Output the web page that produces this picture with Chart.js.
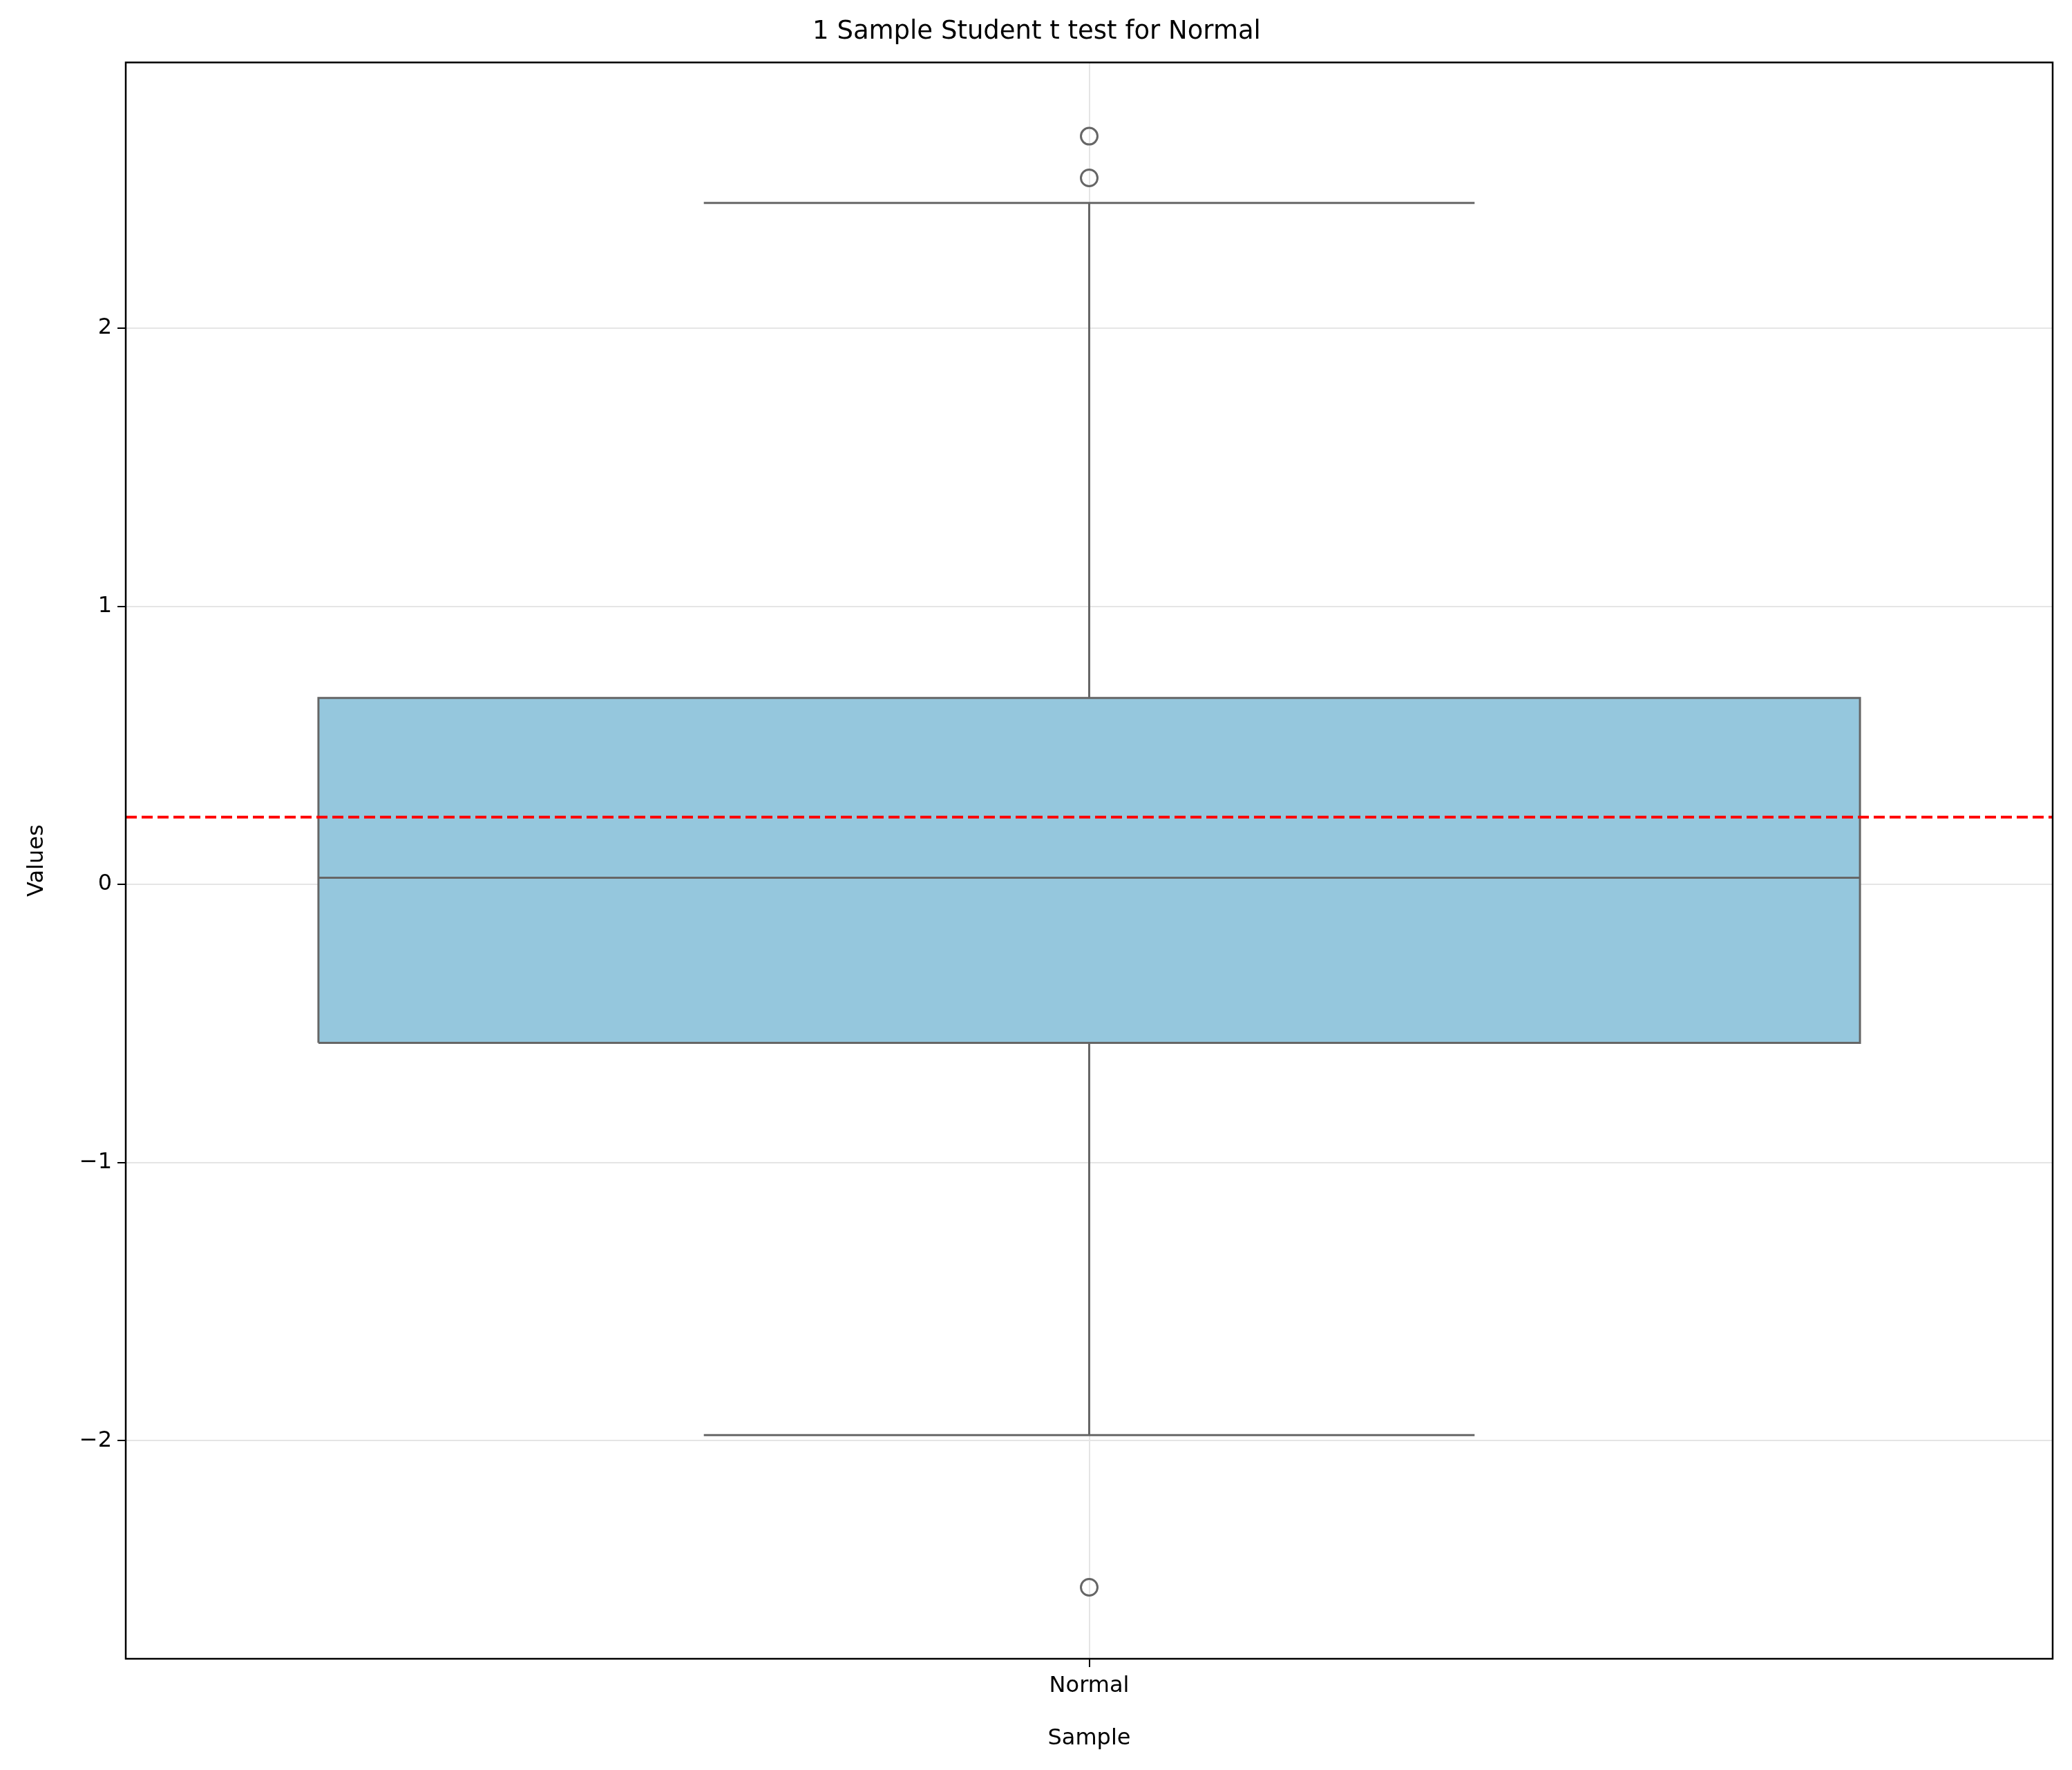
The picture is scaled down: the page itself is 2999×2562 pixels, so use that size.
<!DOCTYPE html>
<html><head><meta charset="utf-8">
<script src="https://cdn.jsdelivr.net/npm/chart.js@4/dist/chart.umd.min.js"></script>
<style>html,body{margin:0;padding:0;background:#fff}#w{width:2999px;height:2562px}</style>
</head><body><div id="w"><canvas id="c"></canvas></div>
<script>
const categories = ["Normal"];
const q1Values = [-0.57];
const medianValues = [0.024];
const q3Values = [0.67];
const whiskerLow = [-1.98];
const whiskerHigh = [2.45];
const outlierValues = [2.69, 2.54, -2.527];
const testMean = [0.242];
const yTicks = [-2, -1, 0, 1, 2];

const G = '#666666';
const q1 = q1Values[0], q3 = q3Values[0], med = medianValues[0];
const ds = [
  {data:[{x:-0.4,y:q3},{x:0.4,y:q3}], borderWidth:0, pointRadius:0, backgroundColor:'#95c7dd', fill:'+1', order:10},
  {data:[{x:-0.4,y:q1},{x:0.4,y:q1}], borderWidth:0, pointRadius:0, fill:false, order:10},
  {data:[{x:0,y:q3},{x:0,y:whiskerHigh[0]}], borderColor:G, borderWidth:3, pointRadius:0},
  {data:[{x:0,y:q1},{x:0,y:whiskerLow[0]}], borderColor:G, borderWidth:3, pointRadius:0},
  {data:[{x:-0.2,y:whiskerHigh[0]},{x:0.2,y:whiskerHigh[0]}], borderColor:G, borderWidth:3, pointRadius:0},
  {data:[{x:-0.2,y:whiskerLow[0]},{x:0.2,y:whiskerLow[0]}], borderColor:G, borderWidth:3, pointRadius:0},
  {data:[{x:-0.4,y:q1},{x:-0.4,y:q3},{x:0.4,y:q3},{x:0.4,y:q1},{x:-0.4,y:q1}], borderColor:G, borderWidth:3, pointRadius:0},
  {data:[{x:-0.4,y:med},{x:0.4,y:med}], borderColor:G, borderWidth:3, pointRadius:0},
  {data:[{x:-0.5,y:testMean[0]},{x:0.5,y:testMean[0]}], borderColor:'#ff0000', borderWidth:4, borderDash:[16,7], pointRadius:0, order:-1},
  {data:outlierValues.map(v=>({x:0,y:v})), showLine:false, pointRadius:12, pointBorderColor:G, pointBackgroundColor:'rgba(0,0,0,0)', pointBorderWidth:3},
];
ds.forEach(d=>{d.type='line'; if(d.order===undefined) d.order=0; if(d.showLine===undefined) d.showLine=true; if(d.fill===undefined) d.fill=false;});

const frame = {id:'frame', afterDraw(ch){const a=ch.chartArea,c=ch.ctx;c.save();c.strokeStyle='#000';c.lineWidth=2.5;c.strokeRect(a.left,a.top,a.right-a.left,a.bottom-a.top);c.restore();}};

new Chart(document.getElementById('c'), {
  type:'scatter',
  data:{datasets:ds},
  plugins:[frame],
  options:{
    responsive:true, maintainAspectRatio:false, animation:false,
    layout:{padding:{left:30,right:28,top:0,bottom:22}},
    plugins:{legend:{display:false}, tooltip:{enabled:false},
      title:{display:true, text:'1 Sample Student t test for Normal', color:'#000', font:{family:'DejaVu Sans',size:37,weight:'normal'}, padding:{top:24,bottom:22}}},
    scales:{
      x:{type:'linear', min:-0.5, max:0.5,
        afterBuildTicks(s){s.ticks=[{value:0}];},
        afterFit(s){s.height=139;},
        ticks:{callback:()=>categories[0], color:'#000', font:{family:'DejaVu Sans',size:32}, padding:8},
        grid:{color:'#e5e5e5', lineWidth:2, tickLength:12, tickColor:'#000'},
        border:{display:false},
        title:{display:true, text:'Sample', color:'#000', font:{family:'DejaVu Sans',size:32}, padding:{top:0}}},
      y:{min:-2.784, max:2.955,
        afterBuildTicks(s){s.ticks=yTicks.map(v=>({value:v}));},
        afterFit(s){s.width=152;},
        ticks:{callback:v=>v<0?'\u2212'+Math.abs(v):String(v), color:'#000', font:{family:'DejaVu Sans',size:32}, padding:8},
        grid:{color:'#e5e5e5', lineWidth:2, tickLength:12, tickColor:'#000'},
        border:{display:false},
        title:{display:true, text:'Values', color:'#000', font:{family:'DejaVu Sans',size:32}, padding:{bottom:10}}}
    }
  }
});
</script></body></html>
